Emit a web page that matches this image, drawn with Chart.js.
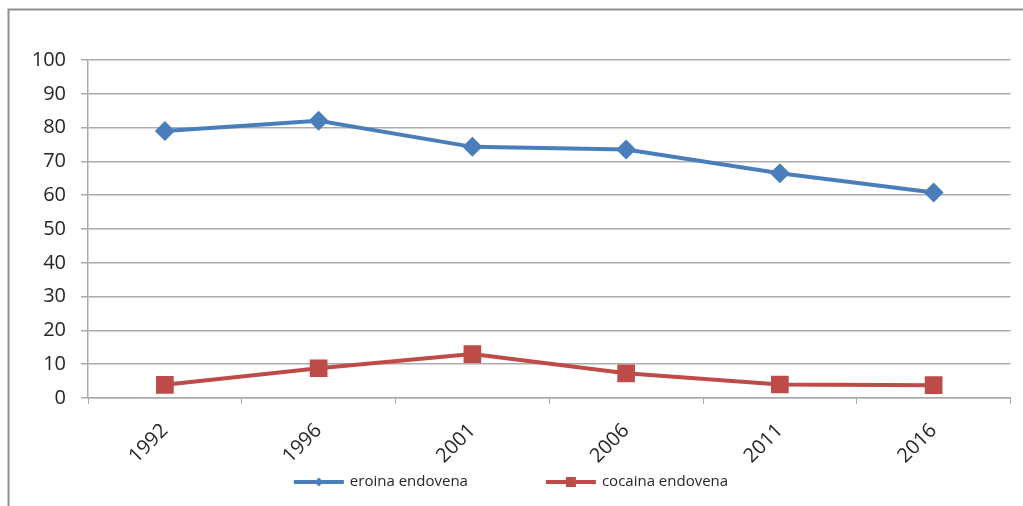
<!DOCTYPE html>
<html>
<head>
<meta charset="utf-8">
<script src="https://cdn.jsdelivr.net/npm/chart.js@4/dist/chart.umd.min.js"></script>
<style>
  html, body { margin: 0; padding: 0; background: #ffffff; }
  #wrap { width: 1023px; height: 506px; position: relative; }
</style>
</head>
<body>
<div id="wrap"><canvas id="chart" width="1023" height="506"></canvas></div>
<script>
// Survey years on the category axis
const years = ['1992', '1996', '2001', '2006', '2011', '2016'];
// Share (%) injecting heroin
const eroinaEndovena = [79, 82, 74.3, 73.5, 66.5, 60.8];
// Share (%) injecting cocaine
const cocainaEndovena = [3.9, 8.8, 13, 7.3, 4, 3.8];
// Value axis ticks
const yTicks = [0, 10, 20, 30, 40, 50, 60, 70, 80, 90, 100];

const FONT = '"Open Sans", "Liberation Sans", sans-serif';
const TEXT = '#262626';
const GRID = '#ababab';

// Outer frame of the chart box
const framePlugin = {
  id: 'frame',
  beforeDraw(chart) {
    const ctx = chart.ctx;
    ctx.save();
    ctx.strokeStyle = '#8e8e8e';
    ctx.lineWidth = 2;
    ctx.beginPath();
    ctx.moveTo(8.5, chart.height + 5);
    ctx.lineTo(8.5, 9.5);
    ctx.lineTo(chart.width + 5, 9.5);
    ctx.stroke();
    ctx.restore();
  }
};

// Legend drawn as a line sample with its marker, followed by the label
const lineLegendPlugin = {
  id: 'lineLegend',
  afterDraw(chart) {
    const ctx = chart.ctx;
    const sets = chart.data.datasets;
    const sampleW = 50, textGap = 6, itemGap = 78, y = 482;
    ctx.save();
    ctx.font = '15px ' + FONT;
    const widths = sets.map(ds => sampleW + textGap + ctx.measureText(ds.label).width);
    const total = widths.reduce((a, b) => a + b, 0) + itemGap * (sets.length - 1);
    let x = 511 - total / 2;
    sets.forEach((ds, i) => {
      ctx.strokeStyle = ds.borderColor;
      ctx.lineWidth = 4;
      ctx.beginPath();
      ctx.moveTo(x, y);
      ctx.lineTo(x + sampleW, y);
      ctx.stroke();
      const cx = x + sampleW / 2;
      ctx.fillStyle = ds.backgroundColor;
      ctx.beginPath();
      if (ds.pointStyle === 'rectRot') {
        ctx.moveTo(cx, y - 4.5); ctx.lineTo(cx + 4.5, y); ctx.lineTo(cx, y + 4.5); ctx.lineTo(cx - 4.5, y);
        ctx.closePath();
      } else {
        ctx.rect(cx - 5, y - 5, 10, 10);
      }
      ctx.fill();
      ctx.fillStyle = TEXT;
      ctx.textBaseline = 'middle';
      ctx.textAlign = 'left';
      ctx.fillText(ds.label, x + sampleW + textGap, y);
      x += widths[i] + itemGap;
    });
    ctx.restore();
  }
};

new Chart(document.getElementById('chart'), {
  type: 'line',
  data: {
    labels: years,
    datasets: [
      {
        label: 'eroina endovena',
        data: eroinaEndovena,
        borderColor: '#4a7ebb',
        backgroundColor: '#4a7ebb',
        borderWidth: 4,
        pointStyle: 'rectRot',
        pointRadius: 10,
        pointBorderWidth: 0,
        tension: 0
      },
      {
        label: 'cocaina endovena',
        data: cocainaEndovena,
        borderColor: '#be4b48',
        backgroundColor: '#be4b48',
        borderWidth: 4,
        pointStyle: 'rect',
        pointRadius: 12.5,
        pointBorderWidth: 0,
        tension: 0
      }
    ]
  },
  options: {
    responsive: false,
    animation: false,
    layout: { padding: { left: 0, right: 8, top: 60, bottom: 0 } },
    plugins: {
      legend: { display: false },
      tooltip: { enabled: false }
    },
    scales: {
      x: {
        offset: true,
        grid: {
          offset: true,
          drawOnChartArea: false,
          color: GRID,
          tickLength: 6
        },
        border: { color: GRID, width: 1.5 },
        ticks: {
          color: TEXT,
          font: { family: FONT, size: 20 },
          maxRotation: 45,
          minRotation: 45,
          padding: 15
        },
        afterFit(scale) { scale.height = 108; }
      },
      y: {
        min: 0,
        max: 100,
        afterBuildTicks(scale) { scale.ticks = yTicks.map(v => ({ value: v })); },
        grid: { color: GRID, lineWidth: 1.5, tickLength: 7 },
        border: { color: GRID, width: 1.5 },
        ticks: {
          color: TEXT,
          font: { family: FONT, size: 20 },
          padding: 15
        },
        afterFit(scale) { scale.width = 88; }
      }
    }
  },
  plugins: [framePlugin, lineLegendPlugin]
});
</script>
</body>
</html>
